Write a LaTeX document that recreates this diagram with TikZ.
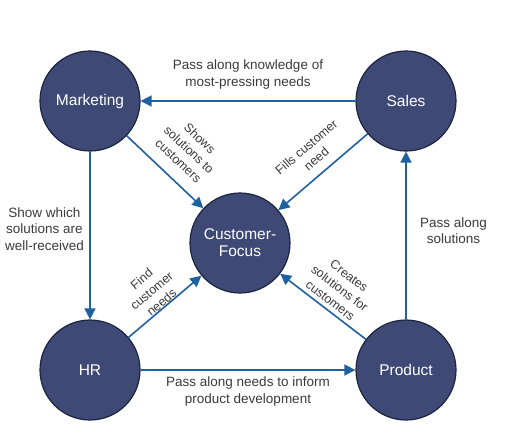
\documentclass[tikz,border=0pt]{standalone}
\usepackage{fontspec}
\setmainfont{Liberation Sans}
\usetikzlibrary{arrows.meta}

\definecolor{hubfill}{HTML}{3E4A75}
\definecolor{hubline}{HTML}{1B2440}
\definecolor{flowblue}{HTML}{1F60A0}
\definecolor{notegray}{HTML}{3A3A3A}

\tikzset{
	hub/.style = {circle, fill = hubfill, draw = hubline, line width = 1.2pt, minimum size = 100pt, inner sep = 0pt, text = white, align = center, font = \fontsize{15.5}{17}\selectfont},
	flow/.style = {-{Triangle[length = 11pt, width = 11pt]}, line width = 1.6pt, flowblue},
	note/.style = {text = notegray, align = center, font = \fontsize{13.5}{16.5}\selectfont},
	tilted/.style = {text = notegray, align = center, sloped, inner sep = 0pt, font = \fontsize{12.5}{15.5}\selectfont}
}

\begin{document}
\begin{tikzpicture}[x = 1pt, y = -1pt]

	\useasboundingbox (0, 0) rectangle (518, 440);

	% Departments + centre
	
	\node [hub] (marketing) at (90, 101) {Marketing};
	\node [hub] (sales) at (406, 101) {Sales};
	\node [hub] (hr) at (90, 370) {HR};
	\node [hub] (product) at (406, 370) {Product};
	\node [hub] (focus) at (240, 243) {Customer-\\Focus};
	
	% Outer loop
	
	\draw [flow] (sales) -- node [note, above = 8pt] {Pass along knowledge of\\most-pressing needs} (marketing);
	\draw [flow] (marketing) -- node [note, left = 2pt, pos = 0.46] {Show which\\solutions are\\well-received} (hr);
	\draw [flow] (hr) -- node [note, below = 3pt] {Pass along needs to inform\\product development} (product);
	\draw [flow] (product) -- node [note, right = 10pt, pos = 0.53] {Pass along\\solutions} (sales);
	
	% Spokes into the centre
	
	\draw [flow] (marketing) -- node [tilted, above = 12pt, pos = 0.52] {Shows\\solutions to\\customers} (focus);
	\draw [flow] (sales) -- node [tilted, above = 9pt, pos = 0.47] {Fills customer\\need} (focus);
	\draw [flow] (hr) -- node [tilted, above = 0pt] {Find\\customer\\needs} (focus);
	\draw [flow] (product) -- node [tilted, above = 4pt, pos = 0.48] {Creates\\solutions for\\customers} (focus);
	
\end{tikzpicture}
\end{document}
